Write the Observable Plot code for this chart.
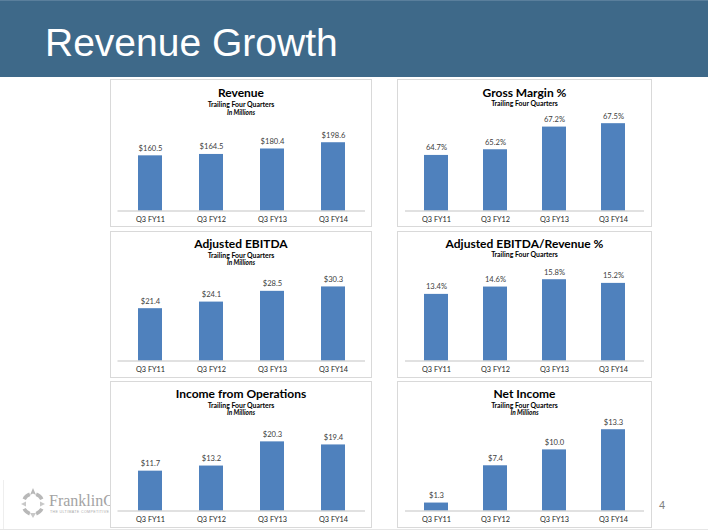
<!DOCTYPE html>
<html>
<head>
<meta charset="utf-8">
<script src="https://cdn.jsdelivr.net/npm/d3@7"></script>
<script src="https://cdn.jsdelivr.net/npm/@observablehq/plot@0.6"></script>
<style>
  html, body { margin: 0; padding: 0; background: #fff; }
  body { width: 708px; height: 532px; position: relative; overflow: hidden; font-family: Lato, "Open Sans", sans-serif; }
  .header { position: absolute; left: 0; top: 0; width: 708px; height: 77px; background: #3e6989; border-top: 1px solid #5a7f9c; box-sizing: border-box; }
  .header h1 { position: absolute; left: 45px; top: 20px; margin: 0; font: 39px/44px "Liberation Sans", Arial, sans-serif; color: #fff; font-weight: normal; letter-spacing: 0; }
  .panel { position: absolute; box-sizing: border-box; border: 1px solid #d9d9d9; background: #fff; }
  .svgwrap { position: absolute; }
  .t { position: absolute; text-align: center; white-space: nowrap; color: #000; font-family: Lato, "Open Sans", sans-serif; }
  .t1 { font-size: 12px; font-weight: bold; height: 14px; line-height: 14px; }
  .t2 { font-size: 6.9px; font-weight: bold; height: 8px; line-height: 8px; }
  .t3 { font-size: 6.5px; font-weight: bold; font-style: italic; height: 8px; line-height: 8px; }
  .logo { position: absolute; left: 18px; top: 486px; }
  .logotext { position: absolute; left: 49px; top: 492px; font: 16px/18px "Liberation Serif", "DejaVu Serif", serif; color: #a3a3a3; white-space: nowrap; }
  .tagline { position: absolute; left: 50px; top: 510px; font: 3.6px/4px "Liberation Sans", sans-serif; color: #aaa; letter-spacing: 0.35px; white-space: nowrap; }
  .pagenum { position: absolute; left: 659px; top: 499px; font: 11px/13px "Liberation Sans", Arial, sans-serif; color: #7f7f7f; }
  .bottomline { position: absolute; left: 0; top: 529px; width: 708px; height: 1px; background: #e6e6e6; }
  .leftline { position: absolute; left: 3px; top: 480px; width: 1px; height: 49px; background: #eeeeee; }
</style>
</head>
<body>
<div class="header"><h1>Revenue Growth</h1></div>
<div class="leftline"></div>
<div class="bottomline"></div>
<svg class="logo" width="30" height="34" viewBox="0 0 30 34">
  <g fill="none" stroke="#b8b8b8" stroke-width="3.6">
    <path d="M 6.2 13.2 A 10 10 0 0 1 11.8 8.3"/>
    <path d="M 18.2 8.3 A 10 10 0 0 1 23.8 13.2"/>
    <path d="M 23.8 22.8 A 10 10 0 0 1 18.2 27.7"/>
    <path d="M 11.8 27.7 A 10 10 0 0 1 6.2 22.8"/>
  </g>
  <path d="M 15 2 L 18 9 L 15 7.5 L 12 9 Z" fill="#b8b8b8"/>
  <path d="M 15 32 L 12 27 L 18 27 Z" fill="#c8c8c8"/>
  <path d="M 3 18 L 8 15.5 L 8 20.5 Z" fill="#c8c8c8"/>
  <path d="M 27 18 L 22 15.5 L 22 20.5 Z" fill="#c8c8c8"/>
</svg>
<div class="logotext">FranklinCovey</div>
<div class="tagline">THE ULTIMATE COMPETITIVE ADVANTAGE</div>
<div class="pagenum">4</div>
<div id="panels"></div>
<script>
// ---- data ----
const quarters = ["Q3 FY11", "Q3 FY12", "Q3 FY13", "Q3 FY14"];
const revenue = [160.5, 164.5, 180.4, 198.6];
const grossMargin = [64.7, 65.2, 67.2, 67.5];
const adjEbitda = [21.4, 24.1, 28.5, 30.3];
const ebitdaMargin = [13.4, 14.6, 15.8, 15.2];
const incomeOps = [11.7, 13.2, 20.3, 19.4];
const netIncome = [1.3, 7.4, 10.0, 13.3];

const chartTitles = ["Revenue", "Gross Margin %", "Adjusted EBITDA", "Adjusted EBITDA/Revenue %", "Income from Operations", "Net Income"];
const subtitle = "Trailing Four Quarters";
const unitNote = "In Millions";

const dollar = v => "$" + v.toFixed(1);
const pct = v => v.toFixed(1) + "%";

// ---- layout ----
const cols = [
  {left: 110, width: 262, x0: 117.5, x1: 365},
  {left: 397, width: 255, x0: 405, x1: 644}
];
const rows = [
  {top: 79, height: 148, base: 210.5, tc: 13.5, sc: 25.2, uc: 33.6},
  {top: 231, height: 147, base: 360.5, tc: 13, sc: 24, uc: 32.3},
  {top: 381, height: 147, base: 510.5, tc: 13, sc: 23.6, uc: 32}
];

const panels = [
  {title: chartTitles[0], values: revenue, fmt: dollar, unit: true, domain: [0, 320], col: 0, row: 0},
  {title: chartTitles[1], values: grossMargin, fmt: pct, unit: false, domain: [59.8, 69.5], col: 1, row: 0},
  {title: chartTitles[2], values: adjEbitda, fmt: dollar, unit: true, domain: [0, 45], col: 0, row: 1},
  {title: chartTitles[3], values: ebitdaMargin, fmt: pct, unit: false, domain: [2.5, 20.5], col: 1, row: 1},
  {title: chartTitles[4], values: incomeOps, fmt: dollar, unit: true, domain: [0, 32.3], col: 0, row: 2},
  {title: chartTitles[5], values: netIncome, fmt: dollar, unit: true, domain: [0, 18], col: 1, row: 2}
];

const host = document.getElementById("panels");
const plotH = 110;

for (const p of panels) {
  const c = cols[p.col], r = rows[p.row];
  const box = document.createElement("div");
  box.className = "panel";
  Object.assign(box.style, {left: c.left + "px", top: r.top + "px", width: c.width + "px", height: r.height + "px"});
  host.appendChild(box);

  const data = quarters.map((q, i) => ({q, v: p.values[i]}));
  const chart = Plot.plot({
    width: c.width,
    height: r.height,
    marginLeft: c.x0 - c.left,
    marginRight: c.left + c.width - c.x1,
    marginTop: r.base - r.top - plotH,
    marginBottom: r.top + r.height - r.base,
    x: {domain: quarters, paddingInner: 0.6, paddingOuter: 0.3},
    y: {domain: p.domain, axis: null},
    style: {background: "transparent", fontFamily: "Lato, 'Open Sans', sans-serif", overflow: "visible"},
    marks: [
      Plot.barY(data, {x: "q", y1: p.domain[0], y2: "v", fill: "#4f81bd"}),
      Plot.ruleY([p.domain[0]], {stroke: "#c4c4c4", strokeWidth: 1.2}),
      Plot.text(data, {x: "q", y: "v", text: d => p.fmt(d.v), dy: -7.5, fontSize: 7.6, fill: "#404040"}),
      Plot.axisX({tickSize: 0, tickPadding: 6, fontSize: 7.3, color: "#262626", label: null})
    ]
  });
  const wrap = document.createElement("div");
  wrap.className = "svgwrap";
  Object.assign(wrap.style, {left: c.left + "px", top: r.top + "px"});
  wrap.appendChild(chart);
  host.appendChild(wrap);

  const cx = c.left + c.width / 2;
  const addText = (cls, txt, center, h) => {
    const d = document.createElement("div");
    d.className = "t " + cls;
    d.textContent = txt;
    Object.assign(d.style, {left: (cx - 100) + "px", width: "200px", top: (r.top + center - h / 2) + "px"});
    host.appendChild(d);
  };
  const tc = p.title === "Gross Margin %" ? r.tc + 0.8 : r.tc;
  addText("t1", p.title, tc, 14);
  addText("t2", subtitle, r.sc - (p.unit ? 0 : 0.8), 8);
  if (p.unit) addText("t3", unitNote, r.uc, 8);
}
</script>
</body>
</html>
